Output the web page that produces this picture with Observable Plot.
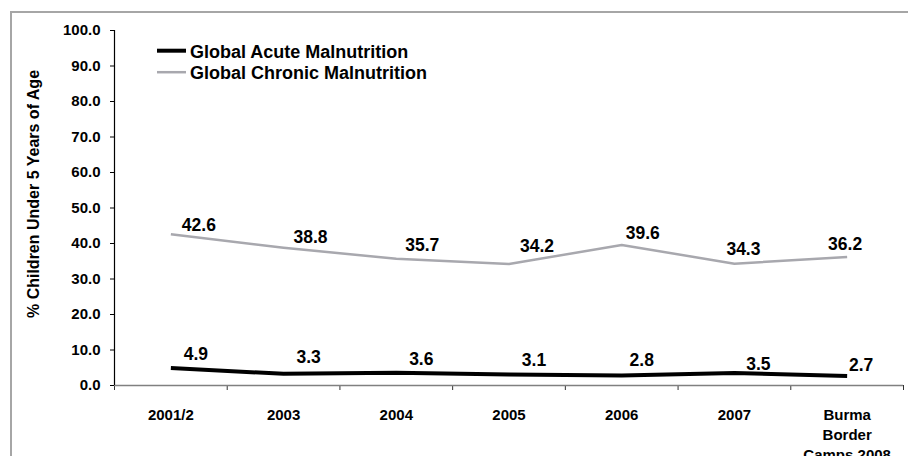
<!DOCTYPE html>
<html>
<head>
<meta charset="utf-8">
<script src="https://cdn.jsdelivr.net/npm/d3@7"></script>
<script src="https://cdn.jsdelivr.net/npm/@observablehq/plot@0.6"></script>
<style>
  html, body { margin: 0; padding: 0; background: #fff; overflow: hidden; }
  #wrap { position: relative; width: 908px; height: 456px; overflow: hidden; font-family: "Liberation Sans", Arial, sans-serif; }
  #frame { position: absolute; left: 10px; top: 11px; width: 1000px; height: 1000px; border: 2px solid #a6a6a6; box-sizing: border-box; }
  #chart { position: absolute; left: 0; top: 0; }
  #legend { position: absolute; left: 0; top: 0; }
  #chart svg text { font-weight: bold; }
</style>
</head>
<body>
<div id="wrap">
  <div id="frame"></div>
  <div id="chart"></div>
  <svg id="legend" width="460" height="100"></svg>
</div>
<script>
// Survey years (last one is the border camps survey)
const categories = ["2001/2", "2003", "2004", "2005", "2006", "2007", "Burma\nBorder\nCamps 2008"];
// Prevalence, % of children under 5
const acute = [4.9, 3.3, 3.6, 3.1, 2.8, 3.5, 2.7];
const chronic = [42.6, 38.8, 35.7, 34.2, 39.6, 34.3, 36.2];
const seriesNames = ["Global Acute Malnutrition", "Global Chronic Malnutrition"];
const yTicks = d3.range(0, 101, 10);
const yLabel = "% Children Under 5 Years of Age";

const seriesStyle = {
  "Global Acute Malnutrition": {stroke: "#000000", width: 4},
  "Global Chronic Malnutrition": {stroke: "#a8a8ae", width: 2.5}
};

const rows = [];
categories.forEach((c, i) => {
  rows.push({series: seriesNames[0], i, value: acute[i]});
  rows.push({series: seriesNames[1], i, value: chronic[i]});
});

// hand-placed value labels: small pixel nudges from the default offset
const labelNudge = {
  "Global Chronic Malnutrition": [[3, 4.5], [2, 3], [1, 0], [3, -4.5], [-4, 1], [-16, -1.5], [-27, 0]],
  "Global Acute Malnutrition": [[0, -1], [0, -3.5], [0, 0], [0, -1.5], [-5, -2], [-1, 4], [-11, 2]]
};

const xPos = d => d.i + 0.5;
const labelFont = '"Liberation Sans Narrow", "Arial Narrow", "Liberation Sans", Arial, sans-serif';

const valueLabels = rows.map(r => {
  const [nx, ny] = labelNudge[r.series][r.i];
  return Plot.text([r], {
    x: xPos, y: "value", text: d => d.value.toFixed(1),
    dx: 25 + nx, dy: -13 + ny,
    fontSize: 17.5, fontWeight: "bold", fontFamily: labelFont, fill: "#000"
  });
});

const chart = Plot.plot({
  width: 908,
  height: 456,
  marginLeft: 114,
  marginRight: 5,
  marginTop: 30,
  marginBottom: 71,
  style: {fontFamily: '"Liberation Sans", Arial, sans-serif', background: "transparent", overflow: "visible"},
  x: {type: "linear", domain: [0, categories.length], axis: null},
  y: {domain: [0, 100], axis: null},
  marks: [
    // x axis: ticks at category boundaries, names at category centres
    Plot.axisX({ticks: d3.range(0, categories.length + 1), tickSize: 5, tickFormat: () => "", stroke: "#333", label: null}),
    Plot.axisX({
      ticks: categories.map((c, i) => i + 0.5), tickSize: 0, tickPadding: 20,
      tickFormat: v => categories[Math.round(v - 0.5)], label: null,
      fontSize: 15, fontWeight: "bold", lineHeight: 1.33, fill: "#000"
    }),
    Plot.ruleY([0], {stroke: "#808080", strokeWidth: 1.5}),
    // y axis
    Plot.axisY({ticks: yTicks, tickSize: 4, tickPadding: 10, tickFormat: d => d.toFixed(1), label: null,
      fontSize: 15, fontWeight: "bold", stroke: "#000", fill: "#000"}),
    Plot.ruleX([0], {stroke: "#000", strokeWidth: 1.2}),
    Plot.text([yLabel], {frameAnchor: "left", textAnchor: "middle", text: d => d, rotate: -90, dx: -81, dy: -14,
      fontSize: 16, fontWeight: "bold", fill: "#000"}),
    // series lines
    ...seriesNames.slice().reverse().map(s => Plot.line(rows.filter(r => r.series === s), {
      x: xPos, y: "value",
      stroke: seriesStyle[s].stroke, strokeWidth: seriesStyle[s].width,
      strokeLinejoin: "round", strokeLinecap: "butt"
    })),
    ...valueLabels
  ]
});
document.getElementById("chart").appendChild(chart);

// legend inside the plot area
const legend = d3.select("#legend");
seriesNames.forEach((s, k) => {
  const cy = 50.7 + k * 21.5;
  legend.append("line")
    .attr("x1", 157).attr("x2", 186).attr("y1", cy).attr("y2", cy)
    .attr("stroke", seriesStyle[s].stroke).attr("stroke-width", seriesStyle[s].width);
  legend.append("text")
    .attr("x", 190).attr("y", cy + 7)
    .attr("font-family", '"Liberation Sans", Arial, sans-serif')
    .attr("font-size", 18).attr("font-weight", "bold").attr("fill", "#000")
    .text(s);
});
</script>
</body>
</html>
